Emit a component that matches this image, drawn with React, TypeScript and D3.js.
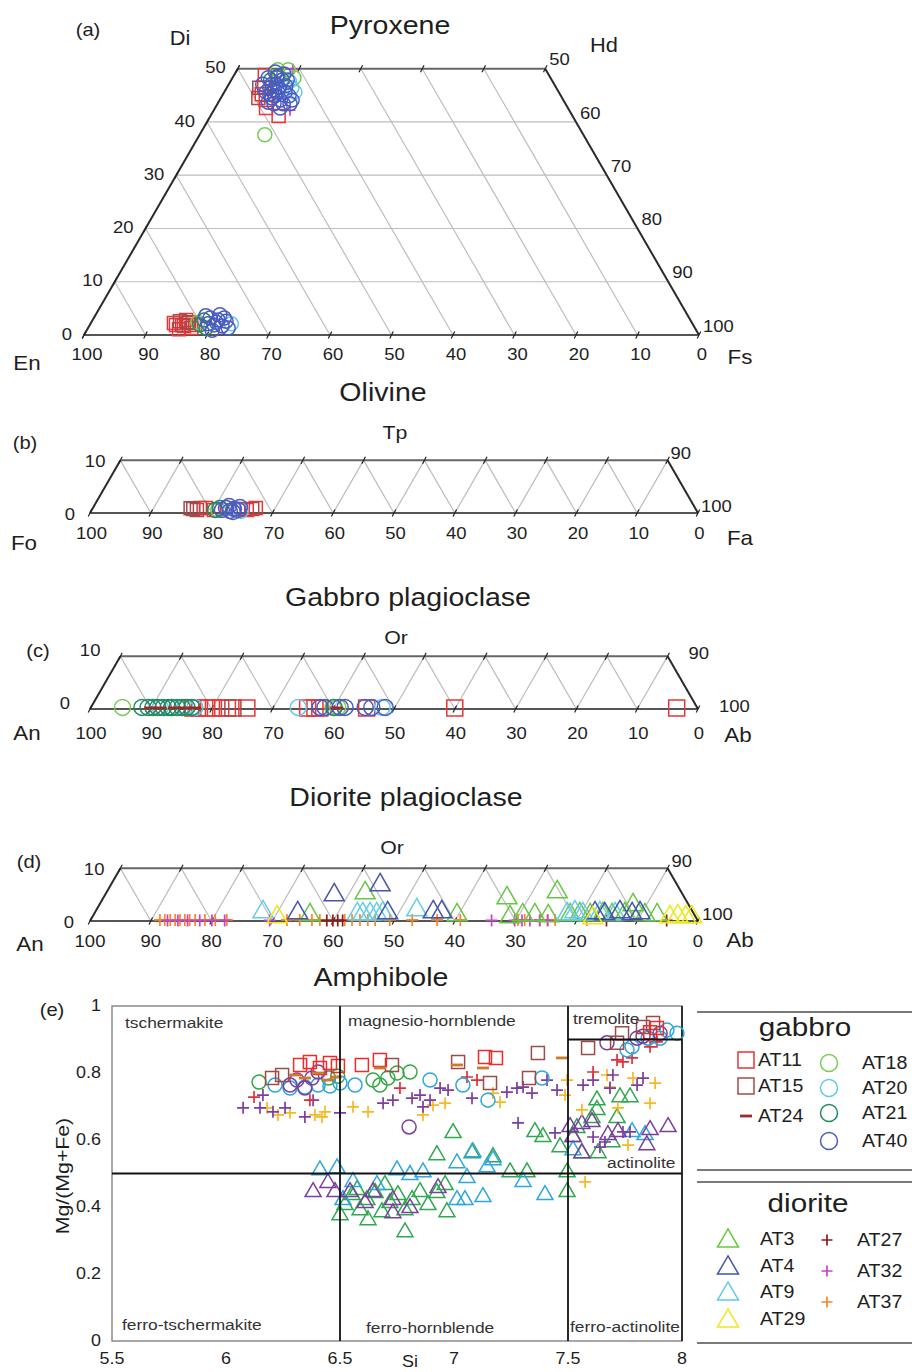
import * as d3 from "d3";

const FONT = "'Liberation Sans', Arial, Helvetica, sans-serif";
const STRETCH = 1.12;
const SQ3 = Math.sqrt(3) / 2;

// tick labels along the ternary bases, left corner -> right corner
const baseTicks = [100, 90, 80, 70, 60, 50, 40, 30, 20, 10, 0];
const pyxSideTicks = [0, 10, 20, 30, 40, 50];
const thinSideTicks = [0, 10];

// (a) pyroxene, [Fs, Wo] in %, En is the rest
const pyxAT11 = [[5.0, 48.8], [6.1, 46.4], [7.5, 44.1], [8.3, 42.6], [11.1, 41.1], [6.3, 45.2], [15.4, 1.7], [15.8, 2.25], [16.8, 1.3], [15.2, 2.8], [14.0, 1.9], [14.9, 1.1], [13.5, 2.25], [17.1, 1.9]];
const pyxAT15 = [[6.1, 44.5], [5.3, 46.4], [15.0, 1.9], [15.9, 2.4], [14.3, 2.6]];
const pyxAT18 = [[6.6, 49.8], [8.3, 49.8], [10.0, 48.3], [10.6, 37.6], [7.5, 48.5], [17.3, 2.4]];
const pyxAT20 = [[10.6, 46.4], [11.5, 45.6], [9.6, 47.6], [22.9, 2.1]];
const pyxAT21 = [[6.4, 47.9], [7.2, 48.6], [8.0, 46.0], [17.9, 1.9], [18.1, 2.8], [19.2, 1.3]];
const pyxAT40 = [[5.8, 48.3], [6.4, 49.4], [8.3, 47.9], [7.0, 46.4], [8.7, 45.6], [9.4, 46.8], [8.3, 44.5], [9.9, 44.1], [10.9, 44.9], [6.8, 45.6], [7.7, 47.1], [8.0, 49.0], [9.2, 43.4], [11.8, 43.4], [5.5, 47.1], [10.6, 42.6], [7.0, 47.1], [8.5, 46.4], [9.9, 45.6], [8.6, 44.9], [10.7, 43.4], [7.6, 45.2], [9.1, 47.9], [7.2, 48.3], [8.1, 43.7], [11.8, 44.1], [18.9, 3.2], [20.2, 1.9], [20.4, 2.8], [21.6, 1.7], [21.8, 2.6], [20.4, 0.9], [20.2, 3.8], [22.8, 1.3], [19.1, 2.1], [20.3, 2.4], [21.2, 3.2], [18.0, 3.6]];
const pyxAT27 = [[7.6, 46.0]];
const pyxAT32 = [[9.0, 49.9], [12.4, 42.2]];

// (b) olivine, [Fa, Tp]
const olAT11 = [[18.6, 0.95], [20.1, 0.57], [24.0, 0.76], [25.5, 0.57], [26.8, 0.95]];
const olAT15 = [[16.6, 0.76], [17.3, 0.57], [17.6, 0.95], [26.3, 0.76], [16.1, 0.9]];
const olAT18 = [[20.8, 0.57]];
const olAT20 = [[24.6, 0.38]];
const olAT21 = [[20.3, 0.57], [20.9, 0.95]];
const olAT40 = [[21.4, 0.57], [21.9, 0.95], [22.8, 0.38], [23.3, 0.76], [24.1, 0.57], [22.2, 1.33], [23.4, 0.2], [24.1, 1.14]];

// (c) gabbro plagioclase, [Ab, Or]
const gpAT11 = [[16.8, 0.2], [17.9, 0.2], [19.1, 0.2], [20.2, 0.2], [21.4, 0.2], [22.5, 0.2], [25.7, 0.2], [35.7, 0.2], [36.9, 0.2], [37.7, 0.2], [45.4, 0.2], [59.9, 0.2], [96.4, 0.2]];
const gpAT15 = [[23.4, 0.2]];
const gpAT24 = [[9.9, 0.2], [11.4, 0.2], [13.8, 0.2], [15.5, 0.2], [17.1, 0.2], [40.5, 0.2]];
const gpAT18 = [[5.2, 0.3], [39.8, 0.3], [40.6, 0.3]];
const gpAT20 = [[11.4, 0.3], [13.3, 0.3], [15.5, 0.3], [17.1, 0.3], [34.1, 0.3], [47.9, 0.3]];
const gpAT21 = [[8.4, 0.3], [9.4, 0.3], [10.2, 0.3], [11.0, 0.3], [11.9, 0.3], [12.7, 0.3], [13.3, 0.3], [14.2, 0.3], [15.0, 0.3], [15.8, 0.3], [16.6, 0.3], [40.0, 0.3]];
const gpAT40 = [[37.7, 0.3], [38.5, 0.3], [41.0, 0.3], [41.8, 0.3], [45.1, 0.3], [46.2, 0.3], [48.4, 0.3]];

// (d) diorite plagioclase, [Ab, Or]
const dpAT3 = [[35.6, 1.14], [42.6, 5.32], [59.8, 1.14], [66.4, 4.37], [68.7, 0.76], [70.6, 1.14], [72.6, 1.14], [74.9, 0.95], [74.1, 5.51], [78.4, 1.14], [79.9, 1.33], [81.7, 1.14], [83.7, 1.33], [85.3, 1.14], [87.3, 1.33], [87.8, 3.04], [90.7, 1.14], [92.7, 1.14]];
const dpAT4 = [[33.4, 1.52], [37.7, 4.94], [44.3, 6.84], [48.2, 1.52], [55.6, 1.71], [57.0, 1.71], [82.3, 1.52], [84.0, 1.33], [86.3, 1.71], [88.5, 1.33], [89.7, 1.52]];
const dpAT9 = [[27.6, 1.71], [43.3, 1.33], [44.2, 1.33], [45.4, 1.33], [46.5, 1.33], [47.4, 1.52], [52.7, 2.09], [77.8, 1.33], [78.9, 1.71], [80.4, 1.33], [83.1, 1.52], [85.7, 1.33]];
const dpAT29 = [[30.4, 0.76], [82.4, 0.57], [95.0, 0.76], [96.2, 0.95], [97.6, 0.76], [98.6, 0.76]];
const dpAT27 = [[38.9, 0.1], [39.9, 0.1], [40.7, 0.1], [41.5, 0.1], [84.9, 0.1], [94.8, 0.1]];
const dpAT32 = [[12.7, 0.1], [14.4, 0.1], [16.0, 0.1], [18.0, 0.1], [20.0, 0.1], [22.1, 0.1], [29.5, 0.1], [66.0, 0.1], [69.8, 0.1], [71.0, 0.1], [72.3, 0.1], [73.9, 0.1], [75.2, 0.1]];
const dpAT37 = [[11.4, 0.2], [12.2, 0.2], [13.1, 0.2], [13.9, 0.2], [14.7, 0.2], [15.5, 0.2], [16.3, 0.2], [17.2, 0.2], [18.8, 0.2], [20.5, 0.2], [22.4, 0.2], [32.3, 0.2], [34.4, 0.2], [36.4, 0.2], [37.7, 0.2], [41.8, 0.2], [43.0, 0.2], [44.3, 0.2], [45.6, 0.2], [46.8, 0.2], [49.2, 0.2], [52.9, 0.2], [57.0, 0.2], [60.8, 0.2], [70.3, 0.2], [71.4, 0.2], [73.9, 0.2], [75.2, 0.2], [76.4, 0.2], [81.6, 0.2]];

// (e) amphibole, [Si, Mg/(Mg+Fe)]
const amAT11 = [[6.325, 0.824], [6.368, 0.833], [6.412, 0.815], [6.456, 0.83], [6.491, 0.821], [6.596, 0.824], [6.675, 0.839], [7.136, 0.848], [7.184, 0.845], [7.86, 0.922], [7.89, 0.934]];
const amAT15 = [[6.202, 0.785], [6.246, 0.794], [6.728, 0.824], [7.018, 0.833], [7.158, 0.77], [7.329, 0.785], [7.368, 0.86], [7.588, 0.875], [7.715, 0.89], [7.737, 0.919], [7.829, 0.937], [7.873, 0.949]];
const amAT24 = [[6.303, 0.794], [6.346, 0.785], [6.404, 0.8], [6.447, 0.779], [6.482, 0.788], [6.675, 0.815], [7.013, 0.824], [7.127, 0.815], [7.474, 0.845]];
const amAT18 = [[6.145, 0.773], [6.45, 0.785], [6.49, 0.79], [6.645, 0.779], [6.675, 0.764], [6.71, 0.785], [6.75, 0.8], [6.807, 0.803]];
const amAT20 = [[6.215, 0.764], [6.281, 0.755], [6.346, 0.758], [6.404, 0.764], [6.456, 0.761], [6.5, 0.77], [6.566, 0.764], [6.895, 0.779], [7.039, 0.764], [7.149, 0.719], [7.386, 0.785], [7.759, 0.869], [7.781, 0.878], [7.851, 0.904], [7.904, 0.904], [7.934, 0.928], [7.978, 0.919]];
const amAT40 = [[6.281, 0.764], [6.311, 0.779], [6.346, 0.755], [6.377, 0.785], [6.404, 0.803], [6.803, 0.639], [7.671, 0.89], [7.803, 0.904], [7.829, 0.91], [7.904, 0.919]];
const amAT27 = [[6.123, 0.728], [6.368, 0.719], [6.763, 0.755], [7.057, 0.788], [7.101, 0.779], [7.715, 0.839], [7.741, 0.833], [7.781, 0.845], [7.61, 0.803], [7.86, 0.878], [7.89, 0.893]];
const amAT32 = [[6.075, 0.696], [6.162, 0.734], [6.149, 0.696], [6.206, 0.684], [6.259, 0.696], [6.346, 0.669], [6.382, 0.719], [6.5, 0.681], [6.689, 0.71], [6.732, 0.719], [6.816, 0.725], [6.851, 0.734], [6.864, 0.699], [6.895, 0.719], [6.939, 0.755], [6.974, 0.749], [7.079, 0.725], [7.232, 0.743], [7.276, 0.755], [7.303, 0.758], [7.342, 0.74], [7.408, 0.779], [7.452, 0.749], [7.281, 0.651], [7.443, 0.621], [7.566, 0.764], [7.61, 0.779], [7.697, 0.794], [7.684, 0.755], [7.803, 0.764], [7.829, 0.785], [7.61, 0.609], [7.741, 0.624], [7.662, 0.594], [7.64, 0.579], [7.772, 0.624]];
const amAT37 = [[6.18, 0.696], [6.228, 0.675], [6.281, 0.681], [6.39, 0.675], [6.434, 0.684], [6.421, 0.669], [6.557, 0.699], [6.623, 0.684], [6.864, 0.675], [6.908, 0.704], [6.961, 0.71], [7.171, 0.74], [7.202, 0.713], [7.496, 0.779], [7.487, 0.734], [7.561, 0.69], [7.671, 0.794], [7.684, 0.758], [7.785, 0.785], [7.882, 0.77], [7.86, 0.71], [7.719, 0.696], [7.763, 0.585], [7.575, 0.475]];
const amAT3 = [[6.996, 0.621], [7.355, 0.624], [7.39, 0.609], [6.925, 0.555], [7.079, 0.561], [7.171, 0.549], [7.246, 0.504], [7.32, 0.504], [7.465, 0.579], [7.496, 0.504], [7.496, 0.445], [7.627, 0.719], [7.728, 0.728], [7.772, 0.728], [7.627, 0.69], [7.605, 0.666], [7.539, 0.636], [7.715, 0.666], [7.522, 0.609], [7.693, 0.594], [7.561, 0.561], [7.632, 0.561], [6.522, 0.406], [6.553, 0.436], [6.588, 0.391], [6.618, 0.421], [6.654, 0.442], [6.684, 0.385], [6.719, 0.412], [6.754, 0.436], [6.785, 0.391], [6.816, 0.421], [6.851, 0.445], [6.886, 0.406], [6.925, 0.442], [6.961, 0.466], [6.969, 0.385], [6.785, 0.325], [6.575, 0.451], [6.697, 0.466], [6.5, 0.376], [6.623, 0.361]];
const amAT9 = [[6.412, 0.51], [6.487, 0.516], [6.557, 0.475], [6.513, 0.421], [6.662, 0.466], [6.75, 0.51], [6.807, 0.496], [6.864, 0.504], [7.013, 0.531], [7.083, 0.564], [7.145, 0.519], [7.171, 0.54], [7.057, 0.487], [7.303, 0.475], [7.013, 0.421], [7.048, 0.421], [7.127, 0.43], [7.399, 0.436], [7.522, 0.57], [7.781, 0.624], [7.838, 0.615]];
const amAT4 = [[6.382, 0.445], [6.447, 0.472], [6.478, 0.445], [6.544, 0.445], [6.645, 0.445], [6.732, 0.421], [6.807, 0.397], [6.93, 0.457], [6.732, 0.382], [6.61, 0.412], [7.509, 0.639], [7.522, 0.609], [7.561, 0.648], [7.605, 0.654], [7.675, 0.615], [7.719, 0.624], [7.86, 0.63], [7.939, 0.639], [7.846, 0.585], [7.561, 0.561]];

const siTicks = [5.5, 6, 6.5, 7, 7.5, 8];
const mgTicks = [0, 0.2, 0.4, 0.6, 0.8, 1];

const gabbroA = ["AT11", "AT15", "AT24"];
const gabbroB = ["AT18", "AT20", "AT21", "AT40"];
const dioriteA = ["AT3", "AT4", "AT9", "AT29"];
const dioriteB = ["AT27", "AT32", "AT37"];

type Shape = "square" | "circle" | "triangle" | "plus" | "dash";
const shapeOf: Record<string, Shape> = {
  AT11: "square", AT15: "square", AT24: "dash",
  AT18: "circle", AT20: "circle", AT21: "circle", AT40: "circle",
  AT3: "triangle", AT4: "triangle", AT9: "triangle", AT29: "triangle",
  AT27: "plus", AT32: "plus", AT37: "plus",
};
// colours used in the ternary panels and the legend
const ternColor: Record<string, string> = {
  AT11: "#ec3434", AT15: "#a8484a", AT24: "#a02828",
  AT18: "#77cc55", AT20: "#62c8ea", AT21: "#218a5e", AT40: "#4a5cc0",
  AT3: "#66c844", AT4: "#4455aa", AT9: "#66cce8", AT29: "#eee81a",
  AT27: "#8c1c1c", AT32: "#c444c4", AT37: "#f7862a",
};
// the amphibole panel was coloured differently
const ampColor: Record<string, string> = {
  AT11: "#ee2a2a", AT15: "#9c4b48", AT24: "#cc7a2e",
  AT18: "#35a845", AT20: "#2ea6e0", AT21: "#218a5e", AT40: "#7b3fa0",
  AT3: "#2fa84f", AT4: "#7b3fa0", AT9: "#2ea6e0", AT29: "#eee81a",
  AT27: "#e0303a", AT32: "#7b3fa0", AT37: "#f7b825",
};

function Txt({ x, y, size, anchor = "middle", rotate = 0, fill = "#1e1e1e", children }: any) {
  return (
    <text
      transform={`translate(${x},${y}) rotate(${rotate}) scale(${STRETCH},1)`}
      fontFamily={FONT}
      fontSize={size}
      textAnchor={anchor}
      dominantBaseline="central"
      fill={fill}
    >
      {children}
    </text>
  );
}

function Mark({ shape, color, x, y, s }: { shape: Shape; color: string; x: number; y: number; s: number }) {
  if (shape === "plus") {
    const h = s / 2;
    return <path d={`M${x - h},${y}H${x + h}M${x},${y - h}V${y + h}`} stroke={color} strokeWidth={1.7} fill="none" />;
  }
  if (shape === "dash") {
    return <line x1={x - s / 2} x2={x + s / 2} y1={y} y2={y} stroke={color} strokeWidth={2.8} />;
  }
  const sym = shape === "circle" ? d3.symbolCircle : shape === "square" ? d3.symbolSquare : d3.symbolTriangle;
  const area = shape === "circle" ? (Math.PI * s * s) / 4 : shape === "square" ? s * s : (Math.sqrt(3) / 4) * s * s;
  return (
    <path d={d3.symbol(sym, area)() as string} transform={`translate(${x},${y})`} fill="none" stroke={color} strokeWidth={1.5} />
  );
}

type Series = { id: string; pts: number[][] };

function Ternary(p: {
  x0: number; L: number; yBase: number; tMax: number; kind: "pyx" | "zig";
  series: Series[]; sizes: Record<string, number>; sideTicks: number[];
  baseDx: number; baseDy: number; leftOff: [number, number]; rightOff: [number, number];
}) {
  const { x0, L, yBase, tMax, kind } = p;
  const xs = d3.scaleLinear().domain([0, 100]).range([x0, x0 + L]);
  const ts = d3.scaleLinear().domain([0, 100]).range([yBase, yBase - L * SQ3]);
  const P = (b: number, t: number): [number, number] => [xs(b + t / 2), ts(t)];

  const grid: [number, number][][] = [];
  const ticks: [number, number][] = [];
  if (kind === "pyx") {
    for (let t = 10; t < tMax; t += 10) grid.push([P(0, t), P(100 - t, t)]);
    for (let b = 10; b < 100; b += 10) grid.push([P(b, 0), b >= tMax ? P(b - tMax, tMax) : P(0, b)]);
    for (let t = 0; t <= tMax; t += 10) ticks.push(P(0, t));
  } else {
    for (let b = 10; b <= 90; b += 10) {
      grid.push([P(b, 0), P(b - tMax, tMax)]);
      grid.push([P(b, 0), P(b, tMax)]);
    }
  }
  for (let b = 0; b <= 100; b += 10) ticks.push(P(b, 0));
  for (let b = 0; b <= 100 - tMax; b += 10) ticks.push(P(b, tMax));

  const line = (a: [number, number], b: [number, number]) => `M${a[0]},${a[1]}L${b[0]},${b[1]}`;
  const BL = P(0, 0), BR = P(100, 0), TL = P(0, tMax), TR = P(100 - tMax, tMax);

  return (
    <g>
      {grid.map((g, i) => (
        <path key={i} d={line(g[0], g[1])} stroke="#bdbdbd" strokeWidth={1.2} fill="none" />
      ))}
      <path d={line(TL, TR)} stroke="#666" strokeWidth={2} />
      <path d={line(BL, BR)} stroke="#555" strokeWidth={2} />
      <path d={line(BL, TL)} stroke="#2a2a2a" strokeWidth={2} />
      <path d={line(TR, BR)} stroke="#2a2a2a" strokeWidth={2} />
      {ticks.map(([x, y], i) => (
        <path key={i} d={`M${x - 1.8},${y + 3.5}L${x + 1.8},${y - 3.5}`} stroke="#222" strokeWidth={1.2} />
      ))}
      {baseTicks.map((v) => (
        <Txt key={v} x={xs(100 - v) + p.baseDx} y={yBase + p.baseDy} size={16.5}>{v}</Txt>
      ))}
      {p.sideTicks.map((t) => {
        const [x, y] = P(0, t);
        return <Txt key={"l" + t} x={x + p.leftOff[0]} y={y + p.leftOff[1]} size={16.5} anchor="end">{t}</Txt>;
      })}
      {p.sideTicks.map((t) => {
        const [x, y] = P(100 - t, t);
        return <Txt key={"r" + t} x={x + p.rightOff[0]} y={y + p.rightOff[1]} size={16.5} anchor="start">{100 - t}</Txt>;
      })}
      {p.series.map((s) => (
        <g key={s.id}>
          {s.pts.map(([b, t], i) => {
            const [x, y] = P(b, t);
            return <Mark key={i} shape={shapeOf[s.id]} color={ternColor[s.id]} x={x} y={y} s={p.sizes[shapeOf[s.id]]} />;
          })}
        </g>
      ))}
    </g>
  );
}

function Amphibole() {
  const x = d3.scaleLinear().domain([5.5, 8]).range([112, 682]);
  const y = d3.scaleLinear().domain([0, 1]).range([1341, 1006]);
  const series: Series[] = [
    { id: "AT3", pts: amAT3 }, { id: "AT9", pts: amAT9 }, { id: "AT4", pts: amAT4 },
    { id: "AT37", pts: amAT37 }, { id: "AT32", pts: amAT32 }, { id: "AT27", pts: amAT27 },
    { id: "AT18", pts: amAT18 }, { id: "AT20", pts: amAT20 }, { id: "AT40", pts: amAT40 },
    { id: "AT15", pts: amAT15 }, { id: "AT11", pts: amAT11 }, { id: "AT24", pts: amAT24 },
  ];
  const sizes: Record<Shape, number> = { circle: 14, square: 13, triangle: 16, plus: 12, dash: 12 };
  const fields: [string, number, number][] = [
    ["tschermakite", 5.557, 0.952], ["magnesio-hornblende", 6.535, 0.958], ["tremolite", 7.522, 0.964],
    ["actinolite", 7.671, 0.534], ["ferro-tschermakite", 5.544, 0.051], ["ferro-hornblende", 6.614, 0.042],
    ["ferro-actinolite", 7.509, 0.045],
  ];
  return (
    <g>
      <rect x={x(5.5)} y={y(1)} width={x(8) - x(5.5)} height={y(0) - y(1)} fill="none" stroke="#8a8a8a" strokeWidth={1.5} />
      <line x1={x(8)} x2={x(8)} y1={y(0)} y2={y(1)} stroke="#222" strokeWidth={1.8} />
      {series.map((s) => (
        <g key={s.id}>
          {s.pts.map(([si, mg], i) => (
            <Mark key={i} shape={shapeOf[s.id]} color={ampColor[s.id]} x={x(si)} y={y(mg)} s={sizes[shapeOf[s.id]]} />
          ))}
        </g>
      ))}
      <line x1={x(6.5)} x2={x(6.5)} y1={y(0)} y2={y(1)} stroke="#111" strokeWidth={1.8} />
      <line x1={x(7.5)} x2={x(7.5)} y1={y(0)} y2={y(1)} stroke="#111" strokeWidth={1.8} />
      <line x1={x(5.5)} x2={x(8)} y1={y(0.5)} y2={y(0.5)} stroke="#111" strokeWidth={1.8} />
      <line x1={x(7.5)} x2={x(8)} y1={y(0.9)} y2={y(0.9)} stroke="#111" strokeWidth={1.8} />
      {fields.map(([name, si, mg]) => (
        <Txt key={name} x={x(si)} y={y(mg)} size={15.5} anchor="start" fill="#333">{name}</Txt>
      ))}
      {siTicks.map((v) => (
        <Txt key={v} x={x(v)} y={1359} size={16}>{String(v)}</Txt>
      ))}
      {mgTicks.map((v) => (
        <Txt key={v} x={101} y={y(v)} size={16} anchor="end">{String(v)}</Txt>
      ))}
      <Txt x={410} y={1362} size={16}>Si</Txt>
      <Txt x={62} y={1176} size={19} rotate={-90}>Mg/(Mg+Fe)</Txt>
    </g>
  );
}

function Legend() {
  const rule = (yy: number) => <line x1={697} x2={912} y1={yy} y2={yy} stroke="#7a7a7a" strokeWidth={2} />;
  const sz: Record<Shape, number> = { square: 16, circle: 17, triangle: 21, plus: 11, dash: 12 };
  const item = (id: string, mx: number, lx: number, yy: number) => (
    <g key={id}>
      <Mark shape={shapeOf[id]} color={ternColor[id]} x={mx} y={shapeOf[id] === "triangle" ? yy + 2 : yy} s={sz[shapeOf[id]]} />
      <Txt x={lx} y={yy} size={17.5} anchor="start">{id}</Txt>
    </g>
  );
  const gA = [1060, 1086, 1116];
  const gB = [1063, 1088, 1113, 1141];
  const dA = [1239, 1266, 1292, 1319];
  const dB = [1240, 1271, 1302];
  return (
    <g>
      {rule(1012)}
      {rule(1170)}
      {rule(1182)}
      {rule(1343)}
      <Txt x={805} y={1027} size={26.5}>gabbro</Txt>
      <Txt x={808} y={1203} size={26.5}>diorite</Txt>
      {gabbroA.map((id, i) => item(id, 746, 758, gA[i]))}
      {gabbroB.map((id, i) => item(id, 829, 862, gB[i]))}
      {dioriteA.map((id, i) => item(id, 728, 760, dA[i]))}
      {dioriteB.map((id, i) => item(id, 827, 857, dB[i]))}
    </g>
  );
}

export default function App() {
  const pyxSeries: Series[] = [
    { id: "AT11", pts: pyxAT11 }, { id: "AT15", pts: pyxAT15 }, { id: "AT27", pts: pyxAT27 }, { id: "AT32", pts: pyxAT32 },
    { id: "AT18", pts: pyxAT18 }, { id: "AT20", pts: pyxAT20 }, { id: "AT21", pts: pyxAT21 }, { id: "AT40", pts: pyxAT40 },
  ];
  const olSeries: Series[] = [
    { id: "AT15", pts: olAT15 }, { id: "AT11", pts: olAT11 }, { id: "AT18", pts: olAT18 },
    { id: "AT20", pts: olAT20 }, { id: "AT21", pts: olAT21 }, { id: "AT40", pts: olAT40 },
  ];
  const gpSeries: Series[] = [
    { id: "AT11", pts: gpAT11 }, { id: "AT15", pts: gpAT15 }, { id: "AT18", pts: gpAT18 }, { id: "AT20", pts: gpAT20 },
    { id: "AT21", pts: gpAT21 }, { id: "AT40", pts: gpAT40 }, { id: "AT24", pts: gpAT24 },
  ];
  const dpSeries: Series[] = [
    { id: "AT37", pts: dpAT37 }, { id: "AT32", pts: dpAT32 }, { id: "AT27", pts: dpAT27 },
    { id: "AT3", pts: dpAT3 }, { id: "AT9", pts: dpAT9 }, { id: "AT4", pts: dpAT4 }, { id: "AT29", pts: dpAT29 },
  ];
  const thin = { x0: 90, L: 608, tMax: 10, kind: "zig" as const, sideTicks: thinSideTicks };

  return (
    <svg width={912} height={1372} style={{ position: "absolute", left: 0, top: 0, display: "block" }}>
      <rect width={912} height={1372} fill="#fff" />

      {/* (a) pyroxene */}
      <Txt x={390} y={25} size={25.5}>Pyroxene</Txt>
      <Txt x={88} y={30} size={18}>(a)</Txt>
      <Txt x={180} y={38} size={19.5}>Di</Txt>
      <Txt x={604} y={45} size={19.5}>Hd</Txt>
      <Txt x={27} y={363} size={20}>En</Txt>
      <Txt x={740} y={357} size={20}>Fs</Txt>
      <Ternary
        x0={84} L={615} yBase={335} tMax={50} kind="pyx" series={pyxSeries}
        sizes={{ circle: 14, square: 13, plus: 11, dash: 12, triangle: 16 }}
        sideTicks={pyxSideTicks} baseDx={3} baseDy={19} leftOff={[-12, -1]} rightOff={[4, -9]}
      />

      {/* (b) olivine */}
      <Txt x={383} y={392} size={25.5}>Olivine</Txt>
      <Txt x={25} y={443} size={18}>(b)</Txt>
      <Txt x={395} y={432} size={19}>Tp</Txt>
      <Txt x={24} y={543} size={20}>Fo</Txt>
      <Txt x={740} y={538} size={20}>Fa</Txt>
      <Ternary
        {...thin} yBase={513} series={olSeries}
        sizes={{ circle: 15, square: 13, plus: 11, dash: 12, triangle: 16 }}
        baseDx={1.5} baseDy={20} leftOff={[-15, 1]} rightOff={[3, -7]}
      />

      {/* (c) gabbro plagioclase */}
      <Txt x={408} y={597} size={25.5}>Gabbro plagioclase</Txt>
      <Txt x={38} y={651} size={18}>(c)</Txt>
      <Txt x={396} y={637} size={19}>Or</Txt>
      <Txt x={27} y={733} size={20}>An</Txt>
      <Txt x={738} y={735} size={20}>Ab</Txt>
      <Ternary
        {...thin} yBase={709} series={gpSeries}
        sizes={{ circle: 16, square: 16, plus: 11, dash: 13, triangle: 18 }}
        baseDx={1} baseDy={24} leftOff={[-20, -6]} rightOff={[21, -3]}
      />

      {/* (d) diorite plagioclase */}
      <Txt x={406} y={797} size={25.5}>Diorite plagioclase</Txt>
      <Txt x={29} y={862} size={18}>(d)</Txt>
      <Txt x={392} y={847} size={19}>Or</Txt>
      <Txt x={30} y={944} size={20}>An</Txt>
      <Txt x={740} y={940} size={20}>Ab</Txt>
      <Ternary
        {...thin} yBase={921} series={dpSeries}
        sizes={{ circle: 16, square: 16, plus: 12, dash: 12, triangle: 20 }}
        baseDx={0} baseDy={20} leftOff={[-16, 1]} rightOff={[4, -7]}
      />

      {/* (e) amphibole */}
      <Txt x={381} y={977} size={25.5}>Amphibole</Txt>
      <Txt x={52} y={1010} size={18}>(e)</Txt>
      <Amphibole />
      <Legend />
    </svg>
  );
}
